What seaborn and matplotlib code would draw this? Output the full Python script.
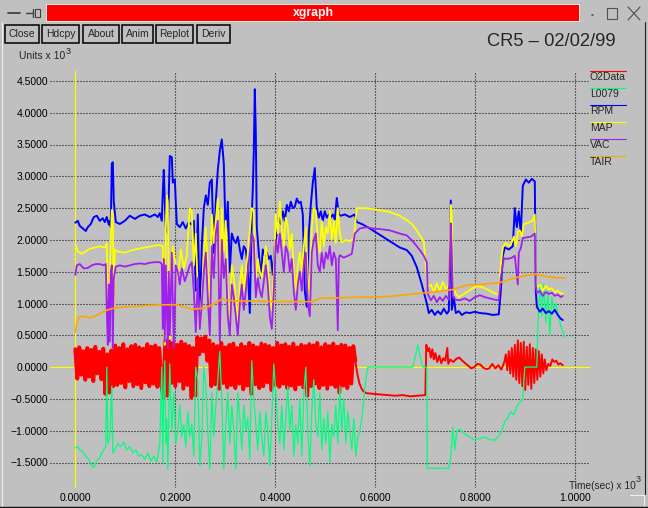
import numpy as np
import pandas as pd
import matplotlib
matplotlib.use("Agg")
import matplotlib.pyplot as plt
import seaborn as sns
from matplotlib.lines import Line2D
from matplotlib.patches import Rectangle

# ---------------- data (time in s, values in units x 10^3) ----------------
series_names = ["O2Data", "L0079", "RPM", "MAP", "VAC", "TAIR"]
series_colors = ["#ff0000", "#00ff7f", "#0000ff", "#ffff00", "#a020f0", "#ffa500"]

# O2Data: dense part sampled every 4 s from t=0, then a tail with explicit times
o2_band_step = 4
o2_band = [0.28, -0.18, 0.31, -0.12, 0.25, -0.20, 0.30, -0.15, 0.27, -0.22, 0.32, -0.10, 0.24, -0.19, 0.29,
           -0.42, 0.20, -0.40, 0.26, -0.30,
           0.34, -0.28, 0.30, -0.25, 0.36, -0.32, 0.28, -0.22, 0.33, -0.30, 0.35, -0.27, 0.31, -0.33, 0.29, -0.24,
           0.36, -0.30, 0.32, -0.26, 0.34, -0.31, 0.30, -0.28,
           -0.48, 0.42, -0.45, 0.40,
           -0.25, 0.38, -0.30, 0.35, -0.22, 0.40, -0.34, 0.36, -0.28, 0.33,
           -0.48, 0.30, -0.45,
           0.47, 0.20, 0.45, 0.25, 0.48, 0.10, 0.42,
           -0.30, 0.36, -0.27, 0.33, -0.34, 0.38, -0.25, 0.31, -0.32, 0.35,
           -0.28, 0.37, -0.33, 0.30, -0.26, 0.36, -0.35, 0.32, -0.29, 0.38,
           -0.42, 0.34, -0.27, 0.31, -0.33, 0.37, -0.30, 0.35, -0.24, 0.33,
           -0.36, 0.30, -0.28, 0.38, -0.31, 0.34, -0.26, 0.36, -0.33, 0.32,
           -0.29, 0.37, -0.35, 0.31, -0.27, 0.35, -0.32, 0.33, -0.45, 0.36,
           -0.30, 0.34, -0.26, 0.38, -0.33, 0.31, -0.28, 0.36, -0.34, 0.33,
           -0.27, 0.37, -0.31, 0.32, -0.40, 0.35, -0.29, 0.34, -0.33, 0.30,
           -0.26, 0.33, 0.10]
o2_tail_t = [564, 568, 572, 576, 582, 595, 610, 625, 640, 655, 670, 685, 700, 702, 705, 708, 711, 714, 717, 720,
             724, 728, 732, 736, 740, 744, 746, 750, 756, 762, 768, 774, 780, 786, 792, 798, 804, 810, 816, 822,
             828, 834, 840, 846, 852, 858, 861, 864, 867, 870, 873, 876, 879, 882, 885, 888, 891, 894, 897, 900,
             903, 906, 909, 912, 915, 918, 921, 924, 927, 930, 933, 936, 939, 942, 946, 950, 954, 958, 962, 966,
             970, 975]
o2_tail_v = [-0.10, -0.25, -0.33, -0.38, -0.41, -0.42, -0.43, -0.44, -0.45, -0.44, -0.46, -0.45, -0.44, 0.35, 0.25,
             0.30, 0.15, 0.28, 0.12, 0.22, 0.08, 0.18, 0.06, 0.14, 0.10, 0.30, 0.05, 0.12, 0.08, 0.13, 0.15, 0.10,
             0.06, 0.02, -0.02, 0.00, 0.05, 0.04, -0.01, -0.03, -0.02, 0.05, -0.02, 0.03, -0.04, 0.08, 0.20, -0.05,
             0.25, -0.10, 0.30, -0.15, 0.35, -0.20, 0.42, -0.25, 0.38, -0.30, 0.40, -0.36, 0.32, -0.28, 0.36, -0.34,
             0.30, -0.25, 0.28, -0.20, 0.25, -0.15, 0.20, -0.10, 0.12, -0.05, 0.05, 0.02, 0.12, 0.08, 0.10, 0.04,
             0.06, 0.03]

l0079_t = [0, 5, 9, 15, 21, 27, 33, 37, 41, 45, 49, 53, 57, 61, 63, 65, 69, 73, 75, 79, 85, 91, 97, 103, 109, 115,
           121, 127, 133, 139, 145, 151, 157, 163, 167, 169, 171, 173, 175, 177, 179, 181, 183, 185, 189, 193, 197,
           201, 205, 209, 213, 217, 221, 225, 229, 233, 237, 241, 245, 249, 253, 257, 261, 265, 269, 273, 277, 281,
           285, 289, 293, 297, 301, 305, 309, 313, 317, 321, 325, 329, 333, 337, 341, 345, 349, 353, 357, 361, 365,
           369, 373, 377, 381, 385, 389, 393, 397, 401, 405, 409, 413, 417, 421, 425, 429, 433, 437, 441, 445, 449,
           453, 457, 461, 465, 469, 473, 477, 481, 485, 489, 493, 497, 501, 505, 509, 513, 517, 521, 525, 529, 533,
           537, 541, 545, 549, 553, 557, 561, 565, 569, 573, 577, 581, 585, 609, 639, 669, 675, 681, 685, 689, 695,
           703, 704, 729, 747, 751, 755, 759, 763, 769, 779, 789, 799, 809, 819, 829, 839, 847, 853, 859, 865, 871,
           877, 883, 889, 895, 899, 909, 923, 925, 929, 933, 937, 941, 945, 949, 953, 957, 961, 965, 971, 979]
l0079_v = [-1.27, -1.25, -1.30, -1.33, -1.40, -1.45, -1.55, -1.58, -1.50, -1.45, -1.42, -1.35, -1.30, -1.25, 0.00,
           -1.20, -1.10, -0.30, -1.35, -1.30, -1.20, -1.25, -1.18, -1.30, -1.25, -1.35, -1.30, -1.40, -1.38, -1.45,
           -1.35, -1.48, -1.40, -1.50, -1.30, -1.20, -0.60, 0.00, -1.50, -0.40, 0.10, -1.20, -0.80, -1.60, 0.05,
           -1.00, -0.40, -1.20, -1.00, -0.60, -1.10, -0.90, -1.25, -0.70, -1.10, -0.90, -1.40, 0.00, -0.20, -1.55,
           -1.10, 0.00, -0.30, -1.00, -1.60, -0.40, -1.10, -0.60, -0.20, 0.25, -0.50, -1.60, -0.90, -0.40, -1.20,
           -0.60, -1.00, -1.60, -0.40, -0.80, -1.30, -0.60, -1.00, -0.80, -1.45, 0.10, -0.50, -0.90, -1.30, -0.70,
           -1.10, -1.40, -0.70, -1.00, -1.55, -0.80, 0.05, -0.40, -0.90, -1.20, -0.60, -1.30, -0.80, -0.30, -1.00,
           -0.60, -1.40, -0.90, -1.20, -0.50, -1.40, -0.40, 0.00, -1.00, -1.55, -0.70, -0.20, -0.90, -1.10, -0.40,
           -1.30, -0.80, -1.20, -0.70, -1.50, -0.90, -1.10, -0.60, -1.20, -0.30, -1.00, -0.50, -1.20, -0.70, -1.00,
           -1.30, -0.80, -1.40, -1.10, -1.00, -0.80, -0.50, -0.20, 0.00, 0.00, 0.00, 0.00, 0.00, 0.20, 0.35, 0.20,
           0.00, 0.00, -1.59, -1.59, -1.59, -1.40, -0.95, -1.30, -1.00, -0.98, -1.05, -1.10, -1.15, -1.12, -1.10,
           -1.14, -1.15, -1.08, -1.00, -0.85, -0.80, -0.70, -0.75, -0.62, -0.55, -0.50, 0.00, 0.00, 0.00, 0.60,
           1.32, 0.80, 1.30, 0.70, 1.20, 0.50, 1.10, 0.90, 1.00, 0.86, 0.65, 0.47]

rpm_t = [0, 5, 9, 15, 21, 25, 31, 37, 43, 49, 55, 59, 63, 67, 69, 71, 73, 75, 77, 81, 89, 99, 109, 119, 129, 139,
         149, 159, 165, 169, 173, 175, 177, 179, 181, 185, 189, 193, 195, 199, 203, 209, 215, 221, 227, 233, 237,
         241, 245, 249, 253, 257, 261, 265, 269, 273, 277, 281, 285, 289, 293, 297, 301, 305, 309, 313, 317, 321,
         325, 329, 333, 337, 341, 345, 349, 353, 355, 357, 359, 361, 363, 367, 371, 375, 379, 383, 387, 391, 395,
         399, 403, 407, 411, 415, 419, 423, 427, 431, 435, 439, 443, 447, 451, 455, 459, 463, 467, 471, 475, 479,
         483, 487, 491, 495, 499, 503, 507, 511, 515, 519, 523, 527, 531, 539, 549, 559, 563, 573, 589, 609, 629,
         649, 663, 673, 683, 693, 703, 707, 713, 719, 725, 731, 737, 743, 747, 751, 753, 757, 761, 767, 773, 781,
         789, 799, 809, 823, 835, 847, 851, 855, 859, 867, 875, 879, 883, 887, 891, 895, 901, 907, 913, 919, 921,
         923, 929, 935, 941, 947, 953, 959, 965, 971, 975]
rpm_v = [2.27, 2.30, 2.22, 2.18, 2.14, 2.20, 2.25, 2.36, 2.38, 2.30, 2.34, 2.28, 2.36, 2.24, 2.30, 2.20, 3.20, 3.22,
         2.60, 2.28, 2.25, 2.30, 2.38, 2.33, 2.38, 2.40, 2.36, 2.40, 2.36, 2.42, 2.30, 2.75, 3.10, 2.60, 2.20, 2.10,
         3.32, 3.30, 2.90, 2.95, 2.25, 2.20, 2.28, 2.18, 2.28, 2.24, 2.30, 1.20, 2.40, 0.80, 1.90, 2.50, 2.70, 2.55,
         2.90, 2.95, 1.80, 2.60, 3.10, 3.40, 3.58, 3.20, 2.00, 2.60, 1.50, 2.10, 2.00, 1.95, 2.05, 1.85, 1.70, 1.90,
         1.85, 1.55, 0.85, 2.40, 2.80, 3.40, 4.37, 3.70, 2.20, 1.80, 1.40, 1.85, 1.75, 1.80, 1.70, 1.75, 1.45, 1.90,
         2.10, 2.35, 2.25, 2.45, 2.30, 2.55, 2.45, 2.60, 2.50, 2.52, 2.65, 2.58, 2.60, 2.40, 1.20, 0.95, 2.10, 2.55,
         2.90, 3.13, 2.50, 2.35, 2.45, 2.30, 2.45, 2.35, 2.40, 2.35, 2.40, 2.32, 2.66, 2.40, 2.38, 2.40, 2.36, 2.40,
         2.28, 2.25, 2.18, 2.08, 1.98, 1.88, 1.84, 1.75, 1.57, 1.30, 1.00, 0.85, 0.90, 0.82, 0.88, 0.83, 0.92, 0.84,
         0.88, 2.62, 0.90, 1.10, 0.85, 0.88, 0.82, 0.86, 0.85, 0.87, 0.85, 0.84, 0.82, 0.83, 1.20, 1.75, 1.88, 1.85,
         1.90, 2.50, 2.20, 2.45, 2.10, 2.85, 2.95, 2.90, 2.96, 2.92, 1.20, 0.95, 0.87, 0.92, 0.85, 0.88, 0.84, 0.90,
         0.82, 0.76, 0.74]

map_t = [0, 5, 13, 21, 29, 39, 49, 59, 63, 65, 67, 69, 73, 75, 77, 79, 83, 99, 119, 139, 153, 169, 175, 177, 179,
         181, 183, 185, 187, 189, 191, 195, 199, 205, 211, 217, 223, 229, 233, 237, 241, 245, 249, 253, 257, 261,
         265, 269, 273, 277, 281, 285, 289, 293, 297, 301, 305, 309, 313, 317, 321, 325, 329, 333, 337, 341, 345,
         349, 353, 357, 361, 365, 369, 373, 377, 381, 385, 389, 393, 397, 401, 405, 409, 413, 417, 421, 425, 429,
         433, 437, 441, 445, 449, 453, 457, 461, 465, 469, 473, 477, 481, 485, 489, 493, 497, 501, 505, 509, 513,
         517, 521, 525, 529, 533, 541, 549, 557, 563, 579, 599, 629, 649, 663, 673, 683, 691, 697, 701, 705, 711,
         717, 723, 729, 735, 741, 747, 751, 753, 755, 761, 767, 775, 783, 791, 799, 809, 819, 829, 839, 847, 851,
         855, 861, 867, 873, 877, 881, 885, 889, 893, 897, 903, 909, 915, 919, 921, 923, 929, 935, 941, 947, 953,
         959, 965, 971, 975]
map_v = [1.93, 1.82, 1.78, 1.82, 1.86, 1.88, 1.90, 1.88, 1.95, 1.00, 0.40, 1.50, 2.47, 2.40, 0.90, 1.85, 1.82, 1.80,
         1.85, 1.88, 1.90, 1.92, 1.90, 1.20, 0.35, 2.20, 2.70, 2.60, 1.00, 0.45, 1.60, 1.90, 1.70, 1.40, 1.85, 1.55,
         1.75, 2.50, 2.45, 1.60, 2.10, 1.20, 0.65, 1.10, 1.75, 2.20, 1.50, 0.90, 2.40, 1.95, 2.30, 2.65, 1.20, 2.50,
         1.80, 2.30, 1.10, 0.70, 1.60, 1.40, 1.10, 0.70, 1.30, 1.60, 1.20, 1.50, 1.80, 2.15, 2.50, 2.45, 1.40, 1.70,
         1.50, 1.40, 1.65, 1.90, 1.60, 1.10, 0.90, 1.50, 2.40, 2.10, 2.60, 2.20, 1.90, 2.35, 2.20, 1.85, 2.10, 1.50,
         1.20, 1.60, 1.80, 1.50, 1.90, 2.20, 1.40, 1.10, 2.20, 2.50, 2.45, 2.00, 1.80, 2.30, 1.90, 2.20, 2.10, 2.45,
         2.00, 2.30, 1.95, 2.50, 2.10, 1.96, 2.00, 1.98, 2.02, 2.50, 2.50, 2.48, 2.44, 2.38, 2.31, 2.25, 2.15, 2.05,
         1.97, 1.60, 1.26, 1.30, 1.18, 1.32, 1.20, 1.34, 1.22, 1.30, 2.55, 2.40, 1.25, 1.15, 1.10, 1.14, 1.18, 1.22,
         1.26, 1.27, 1.24, 1.20, 1.16, 1.14, 1.60, 1.89, 1.95, 1.90, 1.96, 2.05, 1.90, 2.12, 2.15, 2.05, 2.25, 2.26,
         2.28, 2.30, 2.40, 1.40, 1.24, 1.30, 1.20, 1.28, 1.22, 1.24, 1.18, 1.20, 1.16, 1.15]

vac_t = [0, 3, 9, 17, 25, 33, 41, 49, 57, 61, 63, 65, 67, 69, 71, 73, 75, 77, 81, 89, 99, 109, 119, 129, 139, 149,
         159, 169, 173, 175, 177, 179, 181, 185, 187, 189, 193, 197, 201, 205, 209, 213, 219, 225, 229, 233, 237,
         241, 245, 249, 253, 257, 261, 265, 269, 273, 277, 281, 285, 289, 293, 297, 301, 305, 309, 313, 317, 321,
         325, 329, 333, 337, 341, 345, 349, 353, 357, 361, 365, 369, 373, 377, 381, 385, 389, 393, 397, 401, 405,
         409, 413, 417, 421, 425, 429, 433, 437, 441, 445, 449, 453, 457, 461, 465, 469, 473, 477, 481, 485, 489,
         493, 497, 501, 505, 509, 513, 517, 521, 525, 527, 529, 537, 545, 553, 559, 569, 583, 595, 609, 629, 649,
         663, 675, 689, 697, 703, 705, 711, 717, 723, 729, 735, 741, 747, 751, 753, 755, 761, 769, 779, 789, 799,
         809, 819, 829, 839, 847, 851, 857, 865, 873, 879, 885, 887, 891, 895, 903, 911, 919, 921, 923, 929, 935,
         941, 947, 953, 959, 965, 971, 975]
vac_v = [1.45, 1.60, 1.62, 1.55, 1.56, 1.60, 1.62, 1.62, 1.60, 1.62, 0.90, 0.35, 1.30, 0.40, 1.50, 1.60, 0.30, 1.40,
         1.58, 1.60, 1.58, 1.60, 1.62, 1.63, 1.62, 1.64, 1.65, 1.65, 1.62, 0.60, 1.70, 0.40, 1.60, 0.30, 1.50, 0.50,
         1.80, 0.30, 1.60, 1.50, 1.30, 1.55, 1.35, 1.50, 1.60, 1.65, 1.20, 0.55, 1.40, 0.60, 1.00, 1.50, 1.80, 1.10,
         0.50, 1.90, 1.40, 2.10, 2.30, 0.40, 2.00, 1.40, 1.70, 0.80, 0.50, 1.30, 1.10, 0.80, 0.50, 1.00, 1.30, 0.90,
         1.20, 1.50, 1.80, 2.10, 2.00, 1.10, 1.40, 1.20, 1.10, 1.35, 1.60, 1.30, 0.80, 0.60, 1.20, 2.00, 1.80, 2.10,
         1.80, 1.50, 1.90, 1.80, 1.50, 1.70, 1.20, 0.90, 1.30, 1.50, 1.20, 1.60, 1.80, 1.00, 0.80, 1.80, 2.00, 2.10,
         1.60, 1.50, 1.80, 1.55, 1.80, 1.70, 1.90, 1.60, 1.80, 1.70, 0.58, 1.70, 1.76, 1.72, 1.75, 1.78, 2.10, 2.18,
         2.20, 2.18, 2.17, 2.15, 2.10, 2.07, 1.98, 1.84, 1.75, 1.65, 1.15, 1.05, 1.12, 1.02, 1.10, 1.04, 1.12, 1.06,
         2.26, 1.80, 1.10, 1.06, 1.05, 1.08, 1.04, 1.10, 1.13, 1.10, 1.08, 1.06, 1.05, 1.40, 1.71, 1.70, 1.72, 1.75,
         1.30, 1.80, 1.87, 2.03, 2.04, 2.05, 2.10, 1.30, 1.16, 1.20, 1.12, 1.18, 1.15, 1.17, 1.12, 1.14, 1.10, 1.12]

tair_t = [0, 3, 7, 13, 21, 29, 39, 49, 59, 69, 79, 89, 109, 129, 149, 169, 189, 203, 219, 235, 249, 263, 279, 293,
          305, 319, 349, 395, 429, 475, 489, 529, 569, 603, 639, 663, 703, 729, 755, 783, 809, 843, 859, 869, 889,
          909, 923, 939, 955, 979]
tair_v = [0.55, 0.70, 0.78, 0.80, 0.79, 0.77, 0.80, 0.84, 0.88, 0.91, 0.93, 0.94, 0.95, 0.96, 0.97, 0.98, 0.98,
          0.98, 0.94, 0.91, 0.92, 0.94, 1.00, 1.07, 1.05, 1.04, 1.04, 1.03, 1.03, 1.03, 1.08, 1.09, 1.10, 1.10, 1.12,
          1.14, 1.17, 1.19, 1.22, 1.29, 1.30, 1.32, 1.35, 1.38, 1.42, 1.45, 1.46, 1.43, 1.41, 1.40]

x_ticks = [0.0, 0.2, 0.4, 0.6, 0.8, 1.0]
y_ticks = [-1.5, -1.0, -0.5, 0.0, 0.5, 1.0, 1.5, 2.0, 2.5, 3.0, 3.5, 4.0, 4.5]
buttons = ["Close", "Hdcpy", "About", "Anim", "Replot", "Deriv"]
plot_title = "CR5 \u2013 02/02/99"
window_title = "xgraph"
y_unit = "Units x 10"
x_unit = "Time(sec) x 10"
exponent = "3"

# ---------------- assemble ----------------
o2_band_t = list(np.arange(len(o2_band)) * o2_band_step)
series = {
    "L0079": (l0079_t, l0079_v),
    "RPM": (rpm_t, rpm_v),
    "MAP": (map_t, map_v),
    "VAC": (vac_t, vac_v),
    "TAIR": (tair_t, tair_v),
}

sns.set_style("white")
plt.rcParams['font.family'] = ['Liberation Sans', 'DejaVu Sans']
plt.rcParams['lines.scale_dashes'] = False

W, H = 648, 508
BG = '#c0c0c0'
fig = plt.figure(figsize=(W / 100, H / 100), dpi=100)
fig.patch.set_facecolor(BG)

def fx(px):
    return px / W

def fy(py):
    return 1 - py / H

def fline(xs, ys, **kw):
    fig.add_artist(Line2D([fx(v) for v in xs], [fy(v) for v in ys], transform=fig.transFigure, **kw))

# plot area geometry (pixels)
L, R, T, B = 50, 590, 71, 488
x0px, xper = 75.3, 500.0
y0px, yper = 367.1, 63.6
ax = fig.add_axes([fx(L), fy(B), (R - L) / W, (B - T) / H])
ax.set_facecolor(BG)
for s in ax.spines.values():
    s.set_visible(False)
ax.set_xlim((L - x0px) / xper, (R - x0px) / xper)
ax.set_ylim((y0px - B) / yper, (y0px - T) / yper)

ax.set_xticks(x_ticks)
ax.set_xticklabels([f"{v:.4f}" for v in x_ticks])
ax.set_yticks(y_ticks)
ax.set_yticklabels([f"{v:.4f}".replace("-", "\u2212") for v in y_ticks])
ax.tick_params(axis='both', length=0, labelsize=7.5, colors='black')
ax.tick_params(axis='x', pad=3.8)
ax.tick_params(axis='y', pad=1.5)
ax.grid(True, color='black', linestyle=(0, (0.72, 1.44)), linewidth=0.8, zorder=0)
ax.set_axisbelow(True)
ax.axhline(0, color='#ffff00', lw=0.9, zorder=1.5)
ax.axvline(0, color='#ffff00', lw=0.9, zorder=1.5)

def draw(t, v, color, lw, z):
    df = pd.DataFrame({"t": np.asarray(t, float) / 1000.0, "v": v})
    sns.lineplot(data=df, x="t", y="v", ax=ax, color=color, linewidth=lw,
                 estimator=None, sort=False, legend=False, zorder=z)

# O2Data: the densely sampled stretch is drawn heavier so it fills like the reference
draw(o2_band_t, o2_band, series_colors[0], 2.8, 2)
draw(o2_band_t[-1:] + o2_tail_t, o2_band[-1:] + o2_tail_v, series_colors[0], 1.4, 2)
widths = {"L0079": 0.9, "RPM": 1.4, "MAP": 1.3, "VAC": 1.3, "TAIR": 1.2}
for i, (name, col) in enumerate(zip(series_names[1:], series_colors[1:])):
    t, v = series[name]
    draw(t, v, col, widths[name], 3 + i)
ax.set_xlabel("")
ax.set_ylabel("")

# ---------------- window chrome ----------------
fig.add_artist(Rectangle((fx(46), fy(21)), (579 - 46) / W, 17 / H, transform=fig.transFigure,
                         facecolor='#ff0000', edgecolor='#e8e8e8', lw=0.7))
fig.text(fx(313), fy(13), window_title, color='white', fontsize=8.8, fontweight='bold',
         ha='center', va='center')
# left title icons
fline([8, 20], [13, 13], color='#404040', lw=1.3)
fline([26, 33], [13, 13], color='#404040', lw=1.0)
fline([33, 33], [9, 17], color='#404040', lw=1.0)
fig.add_artist(Rectangle((fx(34.5), fy(17)), 5 / W, 8 / H, transform=fig.transFigure,
                         facecolor='none', edgecolor='#404040', lw=0.8))
# right title icons
fline([591.5, 593], [14.5, 14.5], color='#505050', lw=1.2)
fig.add_artist(Rectangle((fx(607), fy(19)), 10 / W, 11 / H, transform=fig.transFigure,
                         facecolor='none', edgecolor='#505050', lw=0.8))
fline([628, 640], [7, 20], color='#505050', lw=0.8)
fline([628, 640], [20, 7], color='#505050', lw=0.8)

# buttons
btn_px = [(5, 39), (42, 79), (83, 119), (122, 153), (156, 193), (197, 230)]
for lab, (a, b) in zip(buttons, btn_px):
    fig.add_artist(Rectangle((fx(a), fy(43)), (b - a) / W, 18 / H, transform=fig.transFigure,
                             facecolor=BG, edgecolor='black', lw=1.1))
    fig.text(fx((a + b) / 2), fy(34), lab, fontsize=7.5, ha='center', va='center')

fig.text(fx(487), fy(41.5), plot_title, fontsize=13.2, ha='left', va='center')
fig.text(fx(19), fy(56), y_unit, fontsize=7.5, ha='left', va='center')
fig.text(fx(66), fy(51), exponent, fontsize=6.5, ha='left', va='center')
fig.text(fx(569), fy(486), x_unit, fontsize=7.3, ha='left', va='center')
fig.text(fx(635.5), fy(480), exponent, fontsize=6.5, ha='left', va='center')

# legend (xgraph style: short line above each label)
for k, (name, col) in enumerate(zip(series_names, series_colors)):
    yl = 71 + 17 * k
    fline([590, 626], [yl, yl], color=col, lw=0.8)
    fig.text(fx(590), fy(yl + 6), name, fontsize=7.5, ha='left', va='center')

# window frame
fline([1.5, 1.5], [22, 506], color='#f0f0f0', lw=0.8)
fline([645, 645], [22, 494], color='#202020', lw=0.8)
fline([0, 648], [506.5, 506.5], color='#101010', lw=1.0)
fline([630, 644, 644], [495, 495, 505], color='#f0f0f0', lw=0.8)

fig.savefig("out.png", dpi=100, facecolor=BG)
